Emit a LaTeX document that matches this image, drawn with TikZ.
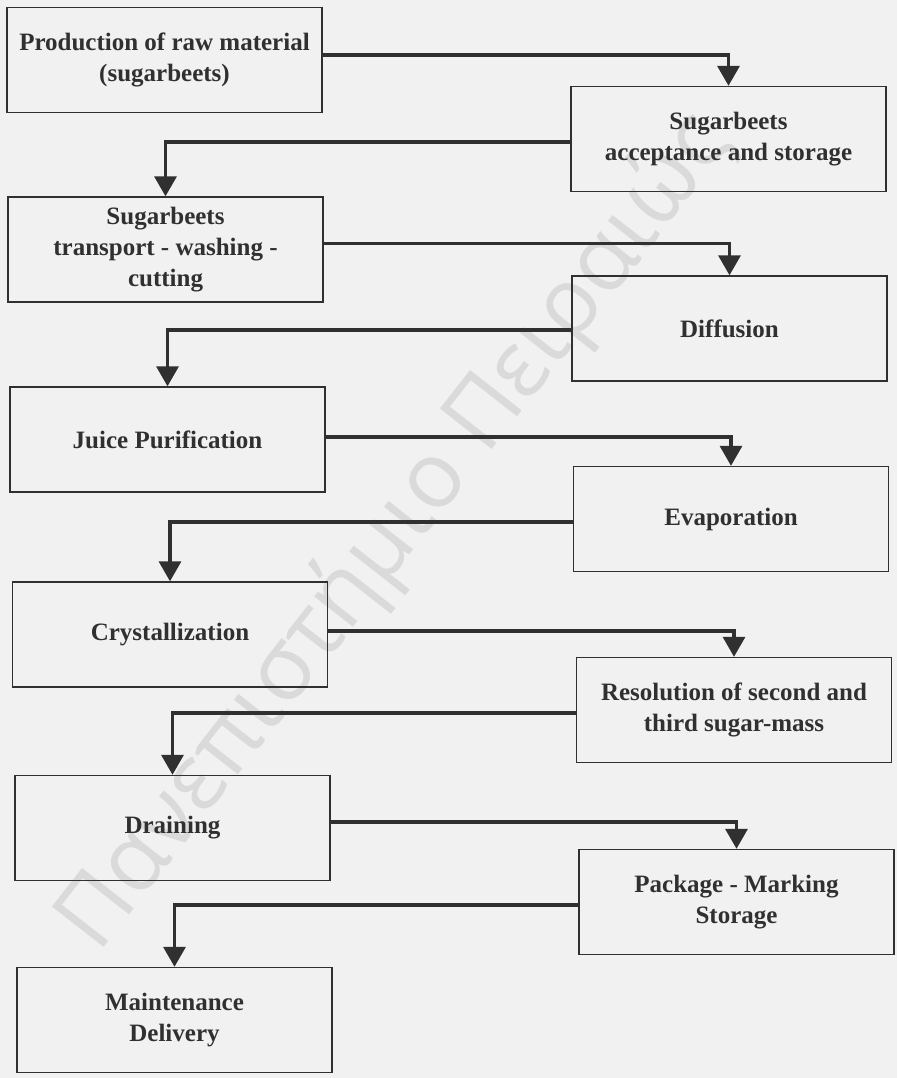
\documentclass[tikz,border=0pt]{standalone}
\usepackage{fontspec}
\setmainfont{Liberation Serif}
\newfontfamily\wmfont{Open Sans}
\usetikzlibrary{arrows.meta}
\definecolor{paper}{RGB}{241,241,241}
\definecolor{ink}{RGB}{48,48,48}
\definecolor{wmgray}{RGB}{218,218,218}
\begin{document}
\begin{tikzpicture}[x=1pt,y=-1pt,
  stage/.style={draw=ink, line width=1.4pt, minimum width=315pt, minimum height=105pt,
    inner sep=0pt, align=center, text=ink, font=\bfseries\fontsize{25}{31}\selectfont},
  flow/.style={draw=ink, line width=3.4pt, -{Triangle[width=22pt,length=20pt]}}]
% page
\fill[paper] (0,0) rectangle (897,1078);
\useasboundingbox (0,0) rectangle (897,1078);
% diagonal watermark
\node[text=wmgray, rotate=52, inner sep=0pt] (wm) at (395,532)
  {\resizebox{1030pt}{!}{\wmfont Πανεπιστήμιο Πειραιώς}};
% process stages
\node[stage] (s1)  at (164.5,60)   {Production of raw material\\(sugarbeets)};
\node[stage] (s2)  at (728.5,139)  {Sugarbeets\\acceptance and storage};
\node[stage] (s3)  at (165.5,249.5){Sugarbeets\\transport - washing -\\cutting};
\node[stage] (s4)  at (729.5,328.5){Diffusion};
\node[stage] (s5)  at (167.5,439.5){Juice Purification};
\node[stage] (s6)  at (731,519)    {Evaporation};
\node[stage] (s7)  at (170,634.5)  {Crystallization};
\node[stage] (s8)  at (734,710)    {Resolution of second and\\third sugar-mass};
\node[stage] (s9)  at (172.5,828)  {Draining};
\node[stage] (s10) at (736.5,902)  {Package - Marking\\Storage};
\node[stage] (s11) at (174.5,1020) {Maintenance\\Delivery};
% flow between stages
\draw[flow] ([yshift=5pt]s1.east)    -| (s2.north);
\draw[flow] ([yshift=-3pt]s2.west)   -| (s3.north);
\draw[flow] ([yshift=6pt]s3.east)    -| (s4.north);
\draw[flow] ([yshift=-1.5pt]s4.west) -| (s5.north);
\draw[flow] ([yshift=2.5pt]s5.east)  -| (s6.north);
\draw[flow] ([yshift=-3pt]s6.west)   -| (s7.north);
\draw[flow] ([yshift=3.5pt]s7.east)  -| (s8.north);
\draw[flow] ([yshift=-3pt]s8.west)   -| (s9.north);
\draw[flow] ([yshift=6pt]s9.east)    -| (s10.north);
\draw[flow] ([yshift=-3pt]s10.west)  -| (s11.north);
\end{tikzpicture}
\end{document}
